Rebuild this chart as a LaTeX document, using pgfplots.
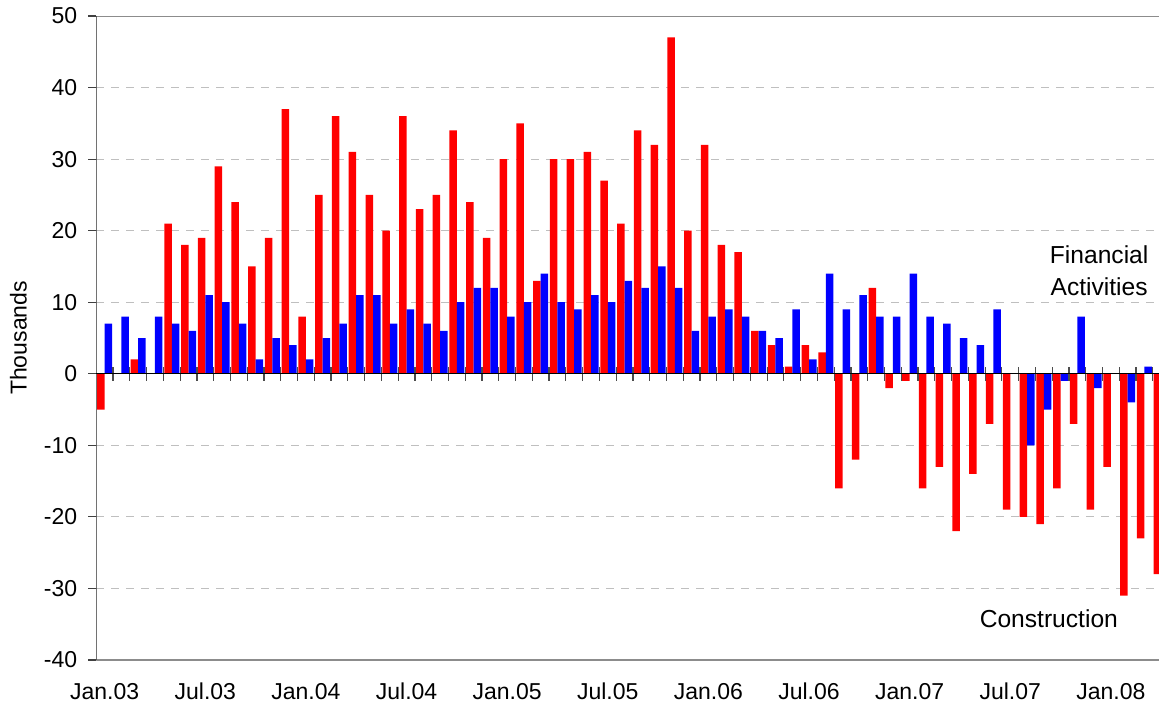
\documentclass[border=0pt]{standalone}
\usepackage{pgfplots}
\usepackage{pgfplotstable}
\pgfplotsset{compat=1.18}
\usepackage{fontspec}
\setmainfont{Liberation Sans}

\pgfplotstableread{
m c f
1 -5 7
2 0 8
3 2 5
4 0 8
5 21 7
6 18 6
7 19 11
8 29 10
9 24 7
10 15 2
11 19 5
12 37 4
13 8 2
14 25 5
15 36 7
16 31 11
17 25 11
18 20 7
19 36 9
20 23 7
21 25 6
22 34 10
23 24 12
24 19 12
25 30 8
26 35 10
27 13 14
28 30 10
29 30 9
30 31 11
31 27 10
32 21 13
33 34 12
34 32 15
35 47 12
36 20 6
37 32 8
38 18 9
39 17 8
40 6 6
41 4 5
42 1 9
43 4 2
44 3 14
45 -16 9
46 -12 11
47 12 8
48 -2 8
49 -1 14
50 -16 8
51 -13 7
52 -22 5
53 -14 4
54 -7 9
55 -19 0
56 -20 -10
57 -21 -5
58 -16 -1
59 -7 8
60 -19 -2
61 -13 0
62 -31 -4
63 -23 1
64 -28 0
}\data

\begin{document}
\begin{tikzpicture}
\begin{axis}[
  scale only axis, width=531.35pt, height=322pt,
  xmin=0, xmax=63.37, ymin=-40, ymax=50,
  ybar=0pt, bar width=3.75pt,
  ytick={-40,-30,...,50},
  xtick={0.5,6.5,...,60.5},
  xticklabels={Jan.03,Jul.03,Jan.04,Jul.04,Jan.05,Jul.05,Jan.06,Jul.06,Jan.07,Jul.07,Jan.08},
  xtick style={draw=none},
  ytick style={black!75, line width=0.6pt},
  ytick pos=left, xtick pos=left,
  tick align=outside, major tick length=4pt,
  ymajorgrids, grid style={black!25, dash pattern=on 4pt off 3.5pt, line width=0.5pt},
  axis line style={draw=none},
  ticklabel style={font=\fontsize{11.5}{13}\selectfont},
  xticklabel style={yshift=-4pt},
  yticklabel style={xshift=-2pt},
  /pgf/number format/assume math mode=true,
  every axis y label/.style={at={(axis description cs:-0.0732,0.5)}, anchor=center, rotate=90, font=\fontsize{11.5}{13}\selectfont},
  ylabel={Thousands},
]
\addplot[fill={rgb,255:red,255;green,0;blue,0}, draw=none] table[x expr=\thisrow{m}-0.5, y=c]{\data};
\addplot[fill={rgb,255:red,0;green,0;blue,255}, draw=none] table[x expr=\thisrow{m}-0.5, y=f]{\data};
\draw[black!45, line width=0.65pt] (rel axis cs:0,1) -- (rel axis cs:1,1);
\draw[black!45, line width=0.65pt] (rel axis cs:0,0) -- (rel axis cs:1,0);
\draw[black!85, line width=0.75pt] (rel axis cs:0,0) -- (rel axis cs:0,1);
\node[anchor=base, font=\fontsize{12.3}{14}\selectfont] at (axis cs:59.8,15.4) {Financial};
\node[anchor=base, font=\fontsize{12.3}{14}\selectfont] at (axis cs:59.8,11.0) {Activities};
\node[anchor=base, font=\fontsize{12.3}{14}\selectfont] at (axis cs:56.8,-35.4) {Construction};
\end{axis}
\begin{axis}[
  scale only axis, width=531.35pt, height=322pt,
  xmin=0, xmax=63.37, ymin=-40, ymax=50,
  axis x line=middle, axis y line=none,
  xtick={1,...,63}, xticklabels={}, ytick=\empty,
  tick align=center, major tick length=7pt,
  xtick style={black!70, line width=0.6pt},
  x axis line style={-, black, line width=0.7pt},
]
\end{axis}
\pgfresetboundingbox
\path[use as bounding box] (-48.15pt,-23pt) rectangle (531.35pt,330pt);
\end{tikzpicture}
\end{document}
